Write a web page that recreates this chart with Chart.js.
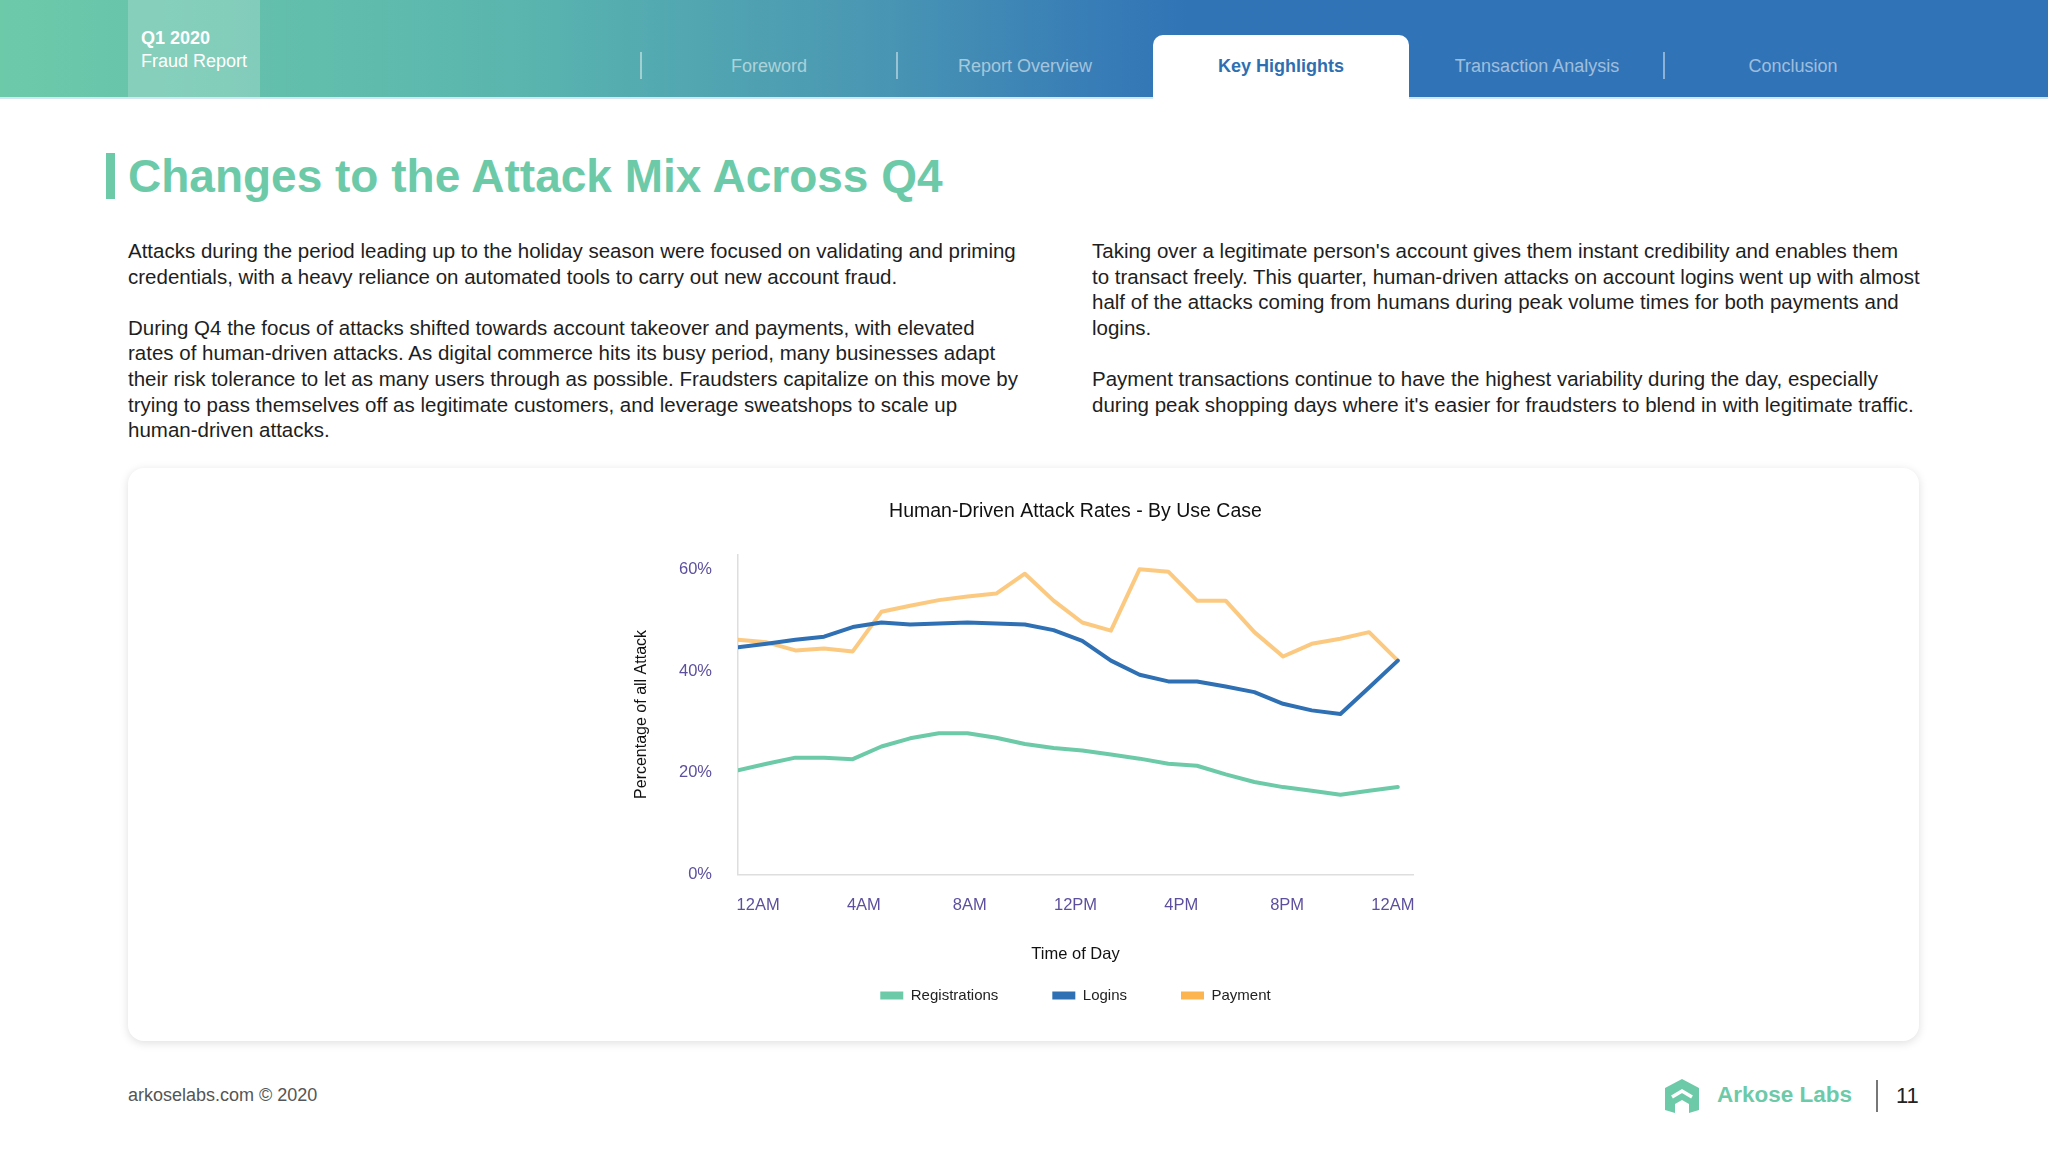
<!DOCTYPE html>
<html>
<head>
<meta charset="utf-8">
<script src="https://cdn.jsdelivr.net/npm/chart.js@4"></script>
<style>
  html, body { margin: 0; padding: 0; }
  body { width: 2048px; height: 1152px; position: relative; background: #fff; font-family: "Liberation Sans", Arial, sans-serif; color: #222; overflow: hidden; }
  .topbar { position: absolute; left: 0; top: 0; width: 2048px; height: 97px; background: linear-gradient(90deg, #6dcaa9 0%, #5ab6ae 25%, #4a98b3 42%, #3a80b6 52%, #3174b6 58%, #3073b6 100%); border-bottom: 2px solid #d3e6f3; }
  .brand { position: absolute; left: 128px; top: 0; width: 132px; height: 97px; background: rgba(255,255,255,0.2); color: #fff; }
  .brand .q { position: absolute; left: 13px; top: 28px; font-weight: bold; font-size: 18px; }
  .brand .r { position: absolute; left: 13px; top: 51px; font-size: 18px; }
  .sep { position: absolute; top: 52px; width: 2px; height: 27px; background: rgba(255,255,255,0.45); }
  .nav { position: absolute; top: 56px; width: 256px; text-align: center; font-size: 18px; color: rgba(255,255,255,0.55); }
  .tab { position: absolute; left: 1153px; top: 35px; width: 256px; height: 64px; background: #fff; border-radius: 10px 10px 0 0; }
  .tab span { position: absolute; left: 0; right: 0; top: 21px; text-align: center; font-weight: bold; font-size: 18px; color: #2e6fb1; }
  .accent { position: absolute; left: 106px; top: 153px; width: 9px; height: 46px; background: #6dcaa9; }
  h1 { position: absolute; left: 128px; top: 148px; margin: 0; font-size: 46px; line-height: 56px; color: #6dcaa9; font-weight: bold; }
  .col { position: absolute; top: 238px; font-size: 20.5px; line-height: 25.6px; white-space: nowrap; color: #1e1e1e; }
  .col p { margin: 0 0 25.6px 0; }
  .card { position: absolute; left: 128px; top: 468px; width: 1791px; height: 573px; background: #fff; border-radius: 16px; box-shadow: 0 2px 10px rgba(0,0,0,0.13); }
  .chartbox { position: absolute; left: 128px; top: 468px; width: 1791px; height: 573px; }
  .foot { position: absolute; left: 128px; top: 1085px; font-size: 18px; color: #555; }
  .logo { position: absolute; left: 1665px; top: 1079px; }
  .logotext { position: absolute; left: 1717px; top: 1082px; font-size: 22.5px; font-weight: bold; color: #6dcaa9; }
  .vbar { position: absolute; left: 1876px; top: 1080px; width: 2px; height: 32px; background: #777; }
  .page { position: absolute; left: 1896px; top: 1083px; font-size: 22px; color: #222; }
</style>
</head>
<body>
<div class="topbar">
  <div class="brand"><div class="q">Q1 2020</div><div class="r">Fraud Report</div></div>
  <div class="sep" style="left:640px"></div>
  <div class="nav" style="left:641px">Foreword</div>
  <div class="sep" style="left:896px"></div>
  <div class="nav" style="left:897px">Report Overview</div>
  <div class="tab"><span>Key Highlights</span></div>
  <div class="nav" style="left:1409px">Transaction Analysis</div>
  <div class="sep" style="left:1663px"></div>
  <div class="nav" style="left:1665px">Conclusion</div>
</div>

<div class="accent"></div>
<h1>Changes to the Attack Mix Across Q4</h1>

<div class="col" style="left:128px">
  <p>Attacks during the period leading up to the holiday season were focused on validating and priming<br>credentials, with a heavy reliance on automated tools to carry out new account fraud.</p>
  <p>During Q4 the focus of attacks shifted towards account takeover and payments, with elevated<br>rates of human-driven attacks. As digital commerce hits its busy period, many businesses adapt<br>their risk tolerance to let as many users through as possible. Fraudsters capitalize on this move by<br>trying to pass themselves off as legitimate customers, and leverage sweatshops to scale up<br>human-driven attacks.</p>
</div>
<div class="col" style="left:1092px">
  <p>Taking over a legitimate person's account gives them instant credibility and enables them<br>to transact freely. This quarter, human-driven attacks on account logins went up with almost<br>half of the attacks coming from humans during peak volume times for both payments and<br>logins.</p>
  <p>Payment transactions continue to have the highest variability during the day, especially<br>during peak shopping days where it's easier for fraudsters to blend in with legitimate traffic.</p>
</div>

<div class="card"></div>
<div class="chartbox"><canvas id="attackChart"></canvas></div>

<div class="foot">arkoselabs.com © 2020</div>
<svg class="logo" width="34" height="34" viewBox="0 0 34 34">
  <path d="M17 0 L34 9 L34 31 L24 34 L24 25 L17 21 L10 25 L10 34 L0 31 L0 9 Z" fill="#6dcaa9"/>
  <path d="M7 18 L17 12 L27 18" stroke="#fff" stroke-width="3.5" fill="none"/>
</svg>
<div class="logotext">Arkose Labs</div>
<div class="vbar"></div>
<div class="page">11</div>

<script>
  const HOURS = [0, 1, 2, 3, 4, 5, 6, 7, 8, 9, 10, 11, 12, 13, 14, 15, 16, 17, 18, 19, 20, 21, 22, 23];
  const REGISTRATIONS = [20.5, 21.8, 23.0, 23.0, 22.7, 25.2, 26.8, 27.8, 27.8, 26.9, 25.7, 24.9, 24.4, 23.6, 22.8, 21.8, 21.4, 19.7, 18.2, 17.2, 16.5, 15.7, 16.5, 17.2];
  const LOGINS = [44.7, 45.4, 46.2, 46.8, 48.7, 49.6, 49.2, 49.4, 49.6, 49.4, 49.2, 48.1, 46.0, 42.1, 39.3, 38.0, 38.0, 37.0, 35.9, 33.6, 32.3, 31.6, 36.8, 42.1];
  const PAYMENT = [46.2, 45.7, 44.1, 44.5, 43.9, 51.7, 52.9, 54.0, 54.7, 55.3, 59.2, 53.9, 49.6, 48.0, 60.1, 59.6, 53.9, 53.9, 47.7, 42.9, 45.4, 46.4, 47.7, 42.1];
  const X_TICK_LABELS = ['12AM', '4AM', '8AM', '12PM', '4PM', '8PM', '12AM'];
  const Y_TICKS = [0, 20, 40, 60];

  const TICK_COLOR = '#5d4f9d';
  const FONT = '"Liberation Sans", Arial, sans-serif';

  const toPoints = vals => HOURS.map((h, i) => ({ x: h, y: vals[i] }));

  new Chart(document.getElementById('attackChart'), {
    type: 'line',
    data: {
      datasets: [
        { label: 'Registrations', data: toPoints(REGISTRATIONS), borderColor: '#6dcaa9', backgroundColor: '#6dcaa9' },
        { label: 'Logins', data: toPoints(LOGINS), borderColor: '#2e70b3', backgroundColor: '#2e70b3' },
        { label: 'Payment', data: toPoints(PAYMENT), borderColor: 'rgba(251,180,80,0.72)', backgroundColor: '#fbb450' },
      ],
    },
    options: {
      responsive: true, maintainAspectRatio: false, animation: false,
      layout: { padding: { left: 500, right: 506, top: 0, bottom: 28 } },
      elements: {
        line: { borderWidth: 4, tension: 0, borderJoinStyle: 'round', borderCapStyle: 'round', fill: false },
        point: { radius: 0, hoverRadius: 0 },
      },
      plugins: {
        title: { display: true, fullSize: false, text: 'Human-Driven Attack Rates - By Use Case', color: '#111', font: { family: FONT, size: 19.5, weight: 'normal' }, padding: { top: 32, bottom: 31 } },
        legend: {
          position: 'bottom', fullSize: false,
          labels: {
            boxWidth: 23, boxHeight: 8, padding: 54, color: '#222', font: { family: FONT, size: 15 },
            generateLabels: chart => Chart.defaults.plugins.legend.labels.generateLabels(chart).map(l => ({ ...l, strokeStyle: l.fillStyle, lineWidth: 0 })),
          },
        },
        tooltip: { enabled: false },
      },
      scales: {
        x: {
          type: 'linear', min: 0, max: 23.53,
          afterFit: s => { s.height = 59.5; },
          afterBuildTicks: s => {
            const pad = 0.7, step = (s.max - s.min - 2 * pad) / (X_TICK_LABELS.length - 1);
            s.ticks = X_TICK_LABELS.map((_, i) => ({ value: s.min + pad + i * step }));
          },
          grid: { display: false, drawTicks: false },
          border: { display: true, color: '#dedede', width: 1.5 },
          ticks: { color: TICK_COLOR, padding: 21, maxRotation: 0, autoSkip: false, font: { family: FONT, size: 16.5 }, callback: (v, i) => X_TICK_LABELS[i] },
          title: { display: true, text: 'Time of Day', color: '#111', font: { family: FONT, size: 16.5 }, padding: { top: 0, bottom: -30.4 } },
        },
        y: {
          min: 0, max: 63,
          afterFit: s => { s.width = 110; },
          afterBuildTicks: s => { s.ticks = Y_TICKS.map(v => ({ value: v })); },
          grid: { display: false, drawTicks: false },
          border: { display: true, color: '#dedede', width: 1.5 },
          ticks: { color: TICK_COLOR, padding: 26, font: { family: FONT, size: 16.5 }, callback: v => v + '%' },
          title: { display: true, text: 'Percentage of all Attack', color: '#111', font: { family: FONT, size: 16 }, padding: { top: 4, bottom: 0 } },
        },
      },
    },
  });
</script>
</body>
</html>
